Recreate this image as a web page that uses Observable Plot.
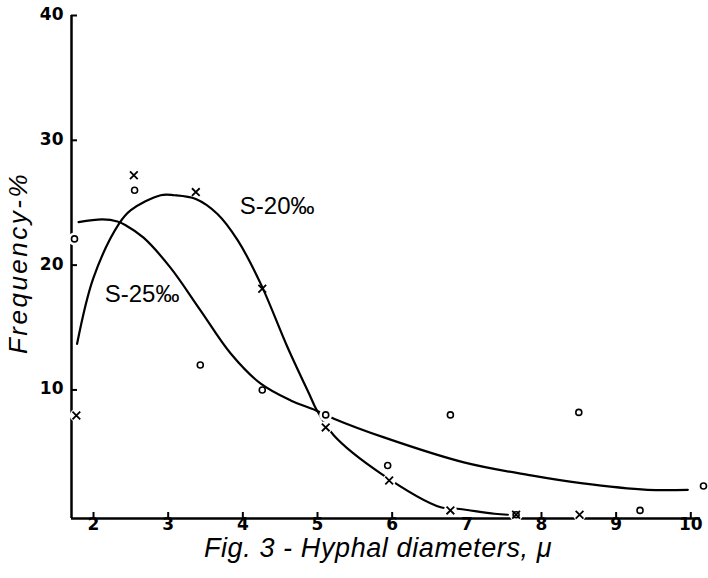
<!DOCTYPE html>
<html><head><meta charset="utf-8">
<script src="https://cdn.jsdelivr.net/npm/d3@7"></script>
<script src="https://cdn.jsdelivr.net/npm/@observablehq/plot@0.6"></script>
<style>body{margin:0;background:#fff}</style>
</head><body><div id="chart"></div>
<script>
// Scales / ticks
const xDomain = [1.705, 10.13];
const yDomain = [-0.3, 40];
const xTickValues = [2, 3, 4, 5, 6, 8, 9, 10];
const xTickLabels = [2, 3, 4, 5, 6, 7, 8, 9, 10];
const yTickValues = [10, 20, 30, 40];

// Observed points: S-20‰ (crosses)
const s20X = [1.77, 2.54, 3.37, 4.26, 5.11, 5.96, 6.78, 7.66, 8.51];
const s20Y = [7.96, 27.2, 25.85, 18.1, 7.0, 2.75, 0.35, 0.0, 0.0];
// Observed points: S-25‰ (circles)
const s25X = [1.745, 2.55, 3.43, 4.26, 5.11, 5.94, 6.78, 7.66, 8.5, 9.32, 10.17];
const s25Y = [22.1, 26.0, 12.0, 10.0, 8.0, 3.95, 8.0, 0.0, 8.2, 0.35, 2.3];

// Hand-fitted curves
const s20CurveX = [1.78, 2.0, 2.34, 2.5, 2.9, 3.08, 3.37, 3.66, 3.93, 4.24, 4.6, 4.91, 4.98, 5.22, 5.85, 6.65, 6.87, 7.37, 7.55];
const s20CurveY = [13.7, 19.0, 23.3, 24.4, 25.6, 25.6, 25.3, 24.1, 22.0, 18.5, 13.4, 9.4, 8.5, 6.35, 3.3, 0.6, 0.48, 0.08, 0.0];
const s25CurveX = [1.8, 2.12, 2.32, 2.43, 2.67, 3.03, 3.43, 3.84, 4.24, 4.64, 4.98, 5.22, 5.89, 6.96, 7.86, 8.53, 9.42, 9.96];
const s25CurveY = [23.45, 23.66, 23.5, 23.2, 22.2, 19.8, 16.4, 12.9, 10.5, 9.16, 8.36, 7.7, 6.2, 4.2, 3.15, 2.53, 2.0, 2.0];

const seriesLabels = ["S-20‰", "S-25‰"];
const seriesLabelX = [4.46, 2.65];
const seriesLabelY = [24.7, 17.7];

const xTitle = "Fig. 3 - Hyphal diameters, μ";
const yTitle = "Frequency-%";

const s20 = s20X.map((x, i) => ({x, y: s20Y[i]}));
const s25 = s25X.map((x, i) => ({x, y: s25Y[i]}));
const c20 = s20CurveX.map((x, i) => ({x, y: s20CurveY[i]}));
const c25 = s25CurveX.map((x, i) => ({x, y: s25CurveY[i]}));
const labs = seriesLabels.map((t, i) => ({t, x: seriesLabelX[i], y: seriesLabelY[i]}));
const allPts = [...s20, ...s25].filter(d => d.y < 9 || d.x < 2);

const tickLenX = 6 / 74.6;
const tickLenY = 6 / 12.48;

const chart = Plot.plot({
  width: 708,
  height: 578,
  marginLeft: 71,
  marginRight: 8,
  marginTop: 15,
  marginBottom: 60,
  x: {domain: xDomain, axis: null},
  y: {domain: yDomain, axis: null},
  style: {background: "white", color: "black"},
  marks: [
    // axes lines
    Plot.ruleX([xDomain[0]], {y1: yDomain[0], y2: yDomain[1], stroke: "black", strokeWidth: 2.5}),
    Plot.ruleY([yDomain[0]], {x1: xDomain[0], x2: xDomain[1], stroke: "black", strokeWidth: 2.5}),
    // inward ticks
    Plot.ruleY(yTickValues, {y: d => d, x1: xDomain[0], x2: xDomain[0] + tickLenX, stroke: "black", strokeWidth: 2}),
    Plot.ruleX(xTickValues, {x: d => d, y1: yDomain[0], y2: yDomain[0] + tickLenY, stroke: "black", strokeWidth: 2}),
    // curves
    Plot.line(c20, {x: "x", y: "y", curve: "catmull-rom", stroke: "black", strokeWidth: 2.2}),
    Plot.line(c25, {x: "x", y: "y", curve: "catmull-rom", stroke: "black", strokeWidth: 2.2}),
    // halos (gaps in lines around markers)
    Plot.dot(allPts, {x: "x", y: "y", r: 6.5, fill: "white", stroke: "none"}),
    // markers
    Plot.dot(s25, {x: "x", y: "y", r: 3, fill: "white", stroke: "black", strokeWidth: 1.6}),
    Plot.dot(s20, {x: "x", y: "y", symbol: "times", r: 3.6, stroke: "black", strokeWidth: 1.8}),
    // tick labels
    Plot.text(xTickLabels, {x: d => d, frameAnchor: "bottom", dy: 11, text: d => String(d), fontSize: 17, fontWeight: "bold", fontFamily: "DejaVu Sans", fill: "black"}),
    Plot.text(yTickValues, {y: d => d, frameAnchor: "left", dx: -8, dy: -1, textAnchor: "end", text: d => String(d), fontSize: 17, fontWeight: "bold", fontFamily: "DejaVu Sans", fill: "black"}),
    // series labels
    Plot.text(labs, {x: "x", y: "y", text: "t", fontSize: 24, fontFamily: "Liberation Sans", fill: "black"}),
    // titles
    Plot.text([xTitle], {frameAnchor: "bottom", textAnchor: "middle", dx: -8, dy: 38, text: d => d, fontSize: 27, fontStyle: "italic", fontFamily: "Liberation Sans", fill: "black"}),
    Plot.text([yTitle], {frameAnchor: "left", textAnchor: "middle", dx: -53, dy: -4, rotate: -90, text: d => d, fontSize: 26, fontStyle: "italic", fontFamily: "Liberation Sans", fill: "black"})
  ]
});
d3.select(chart).selectAll("text")
  .filter(function() { return this.textContent === yTitle; })
  .style("letter-spacing", "2.5px");
d3.select(chart).selectAll("text")
  .filter(function() { return this.textContent === xTitle; })
  .style("letter-spacing", "0.6px");
document.getElementById("chart").appendChild(chart);
</script>
</body></html>
